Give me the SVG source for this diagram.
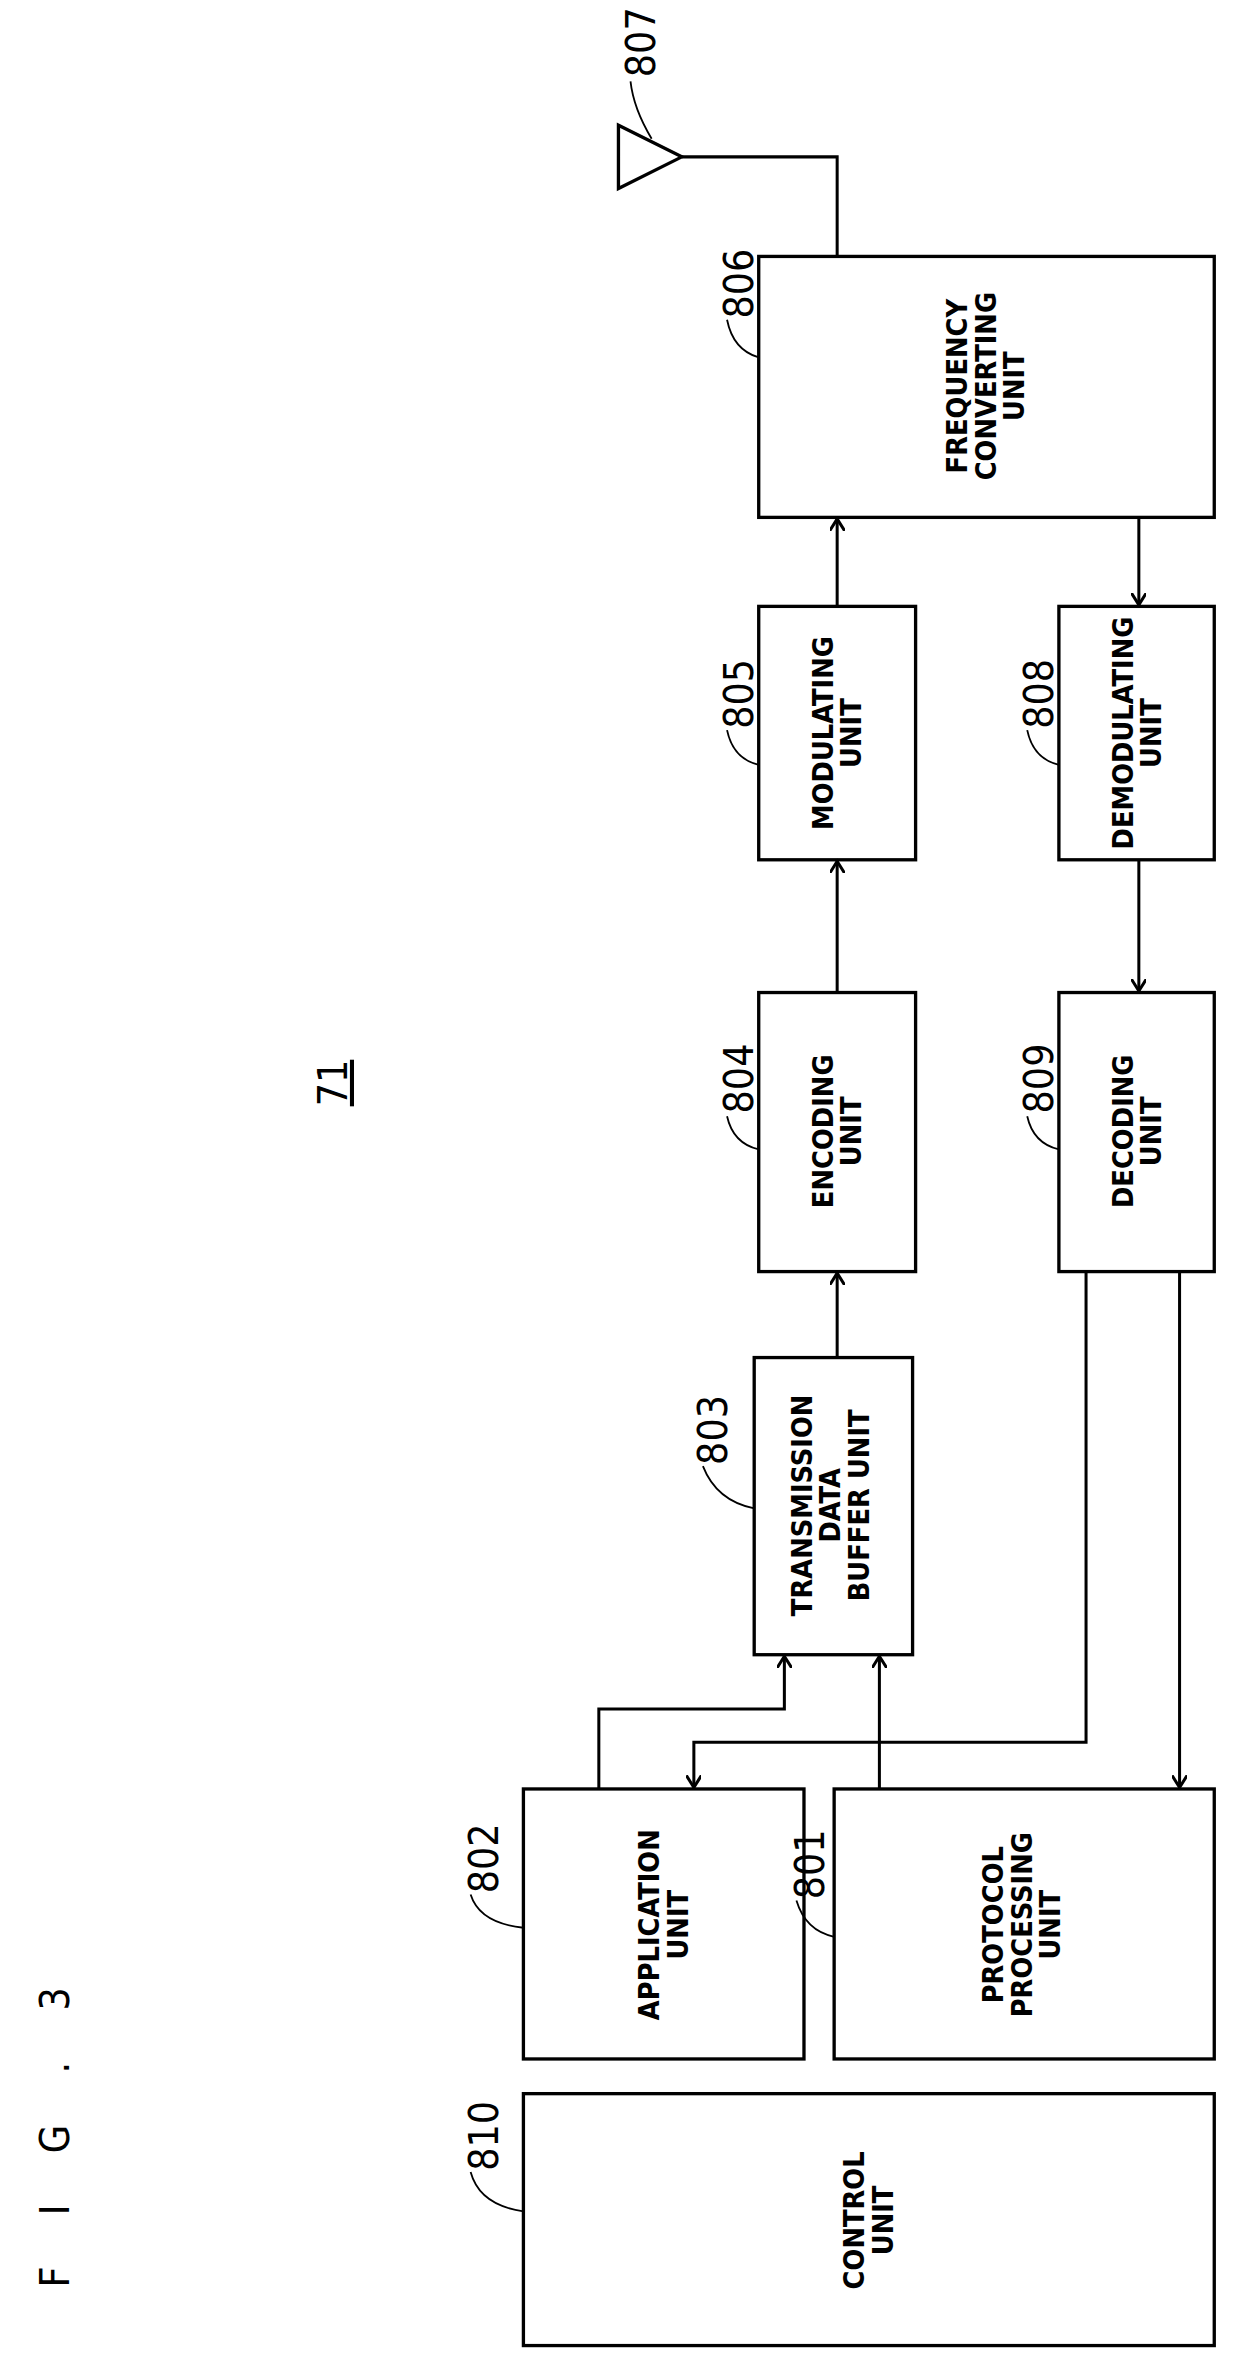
<svg xmlns="http://www.w3.org/2000/svg" width="1252" height="2353" viewBox="0 0 1252 2353">
<style>
.b{fill:#fff;stroke:#000;stroke-width:2.2}
.t{font-family:"DejaVu Sans Condensed","Liberation Sans",sans-serif;font-size:19px;font-weight:bold;text-anchor:middle}
.n{font-family:"DejaVu Sans Condensed","Liberation Sans",sans-serif;font-size:27px;text-anchor:middle}
.l{fill:none;stroke:#000;stroke-width:1.2}
.c{fill:none;stroke:#000;stroke-width:2;marker-end:url(#a)}
.w{fill:none;stroke:#000;stroke-width:2}
</style>
<defs><marker id="a" markerWidth="10" markerHeight="10" refX="8" refY="5" orient="auto" markerUnits="userSpaceOnUse"><path d="M0,0 L8,5 L0,10" fill="none" stroke="#000" stroke-width="2"/></marker></defs>
<rect width="1252" height="2353" fill="#fff"/>
<g transform="scale(1.5084)">
<text class="n" transform="translate(46,1400) rotate(-90)" font-size="32" letter-spacing="34">FIG.3</text>
<text class="n" transform="translate(230,718) rotate(-90)" text-decoration="underline">71</text>
<g id="n807"><polygon points="410,83 410,125 452,104" class="b"/><text class="n" transform="translate(434,28) rotate(-90)">807</text><path class="l" d="M418,54 Q420,72 432,92"/></g>
<g id="n806"><rect class="b" x="503" y="170" width="302" height="173"/><text class="t" transform="translate(655,256) rotate(-90)"><tspan x="0" y="-14">FREQUENCY</tspan><tspan x="0" y="5">CONVERTING</tspan><tspan x="0" y="24">UNIT</tspan></text><text class="n" transform="translate(499,188) rotate(-90)">806</text><path class="l" d="M482,212 Q486,232 503,237"/></g>
<g id="n805"><rect class="b" x="503" y="402" width="104" height="168"/><text class="t" transform="translate(555,486) rotate(-90)"><tspan x="0" y="-3">MODULATING</tspan><tspan x="0" y="16">UNIT</tspan></text><text class="n" transform="translate(499,460) rotate(-90)">805</text><path class="l" d="M482,484 Q486,503 503,507"/></g>
<g id="n808"><rect class="b" x="702" y="402" width="103" height="168"/><text class="t" transform="translate(754,486) rotate(-90)"><tspan x="0" y="-3">DEMODULATING</tspan><tspan x="0" y="16">UNIT</tspan></text><text class="n" transform="translate(698,460) rotate(-90)">808</text><path class="l" d="M681,484 Q685,503 702,507"/></g>
<g id="n804"><rect class="b" x="503" y="658" width="104" height="185"/><text class="t" transform="translate(555,750) rotate(-90)"><tspan x="0" y="-3">ENCODING</tspan><tspan x="0" y="16">UNIT</tspan></text><text class="n" transform="translate(499,715) rotate(-90)">804</text><path class="l" d="M482,740 Q486,758 503,762"/></g>
<g id="n809"><rect class="b" x="702" y="658" width="103" height="185"/><text class="t" transform="translate(754,750) rotate(-90)"><tspan x="0" y="-3">DECODING</tspan><tspan x="0" y="16">UNIT</tspan></text><text class="n" transform="translate(698,715) rotate(-90)">809</text><path class="l" d="M681,740 Q685,758 702,762"/></g>
<g id="n803"><rect class="b" x="500" y="900" width="105" height="197"/><text class="t" transform="translate(552,998) rotate(-90)"><tspan x="0" y="-14">TRANSMISSION</tspan><tspan x="0" y="5">DATA</tspan><tspan x="0" y="24">BUFFER UNIT</tspan></text><text class="n" transform="translate(482,948) rotate(-90)">803</text><path class="l" d="M466,972 Q475,995 500,1000"/></g>
<g id="n802"><rect class="b" x="347" y="1186" width="186" height="179"/><text class="t" transform="translate(440,1276) rotate(-90)"><tspan x="0" y="-3">APPLICATION</tspan><tspan x="0" y="16">UNIT</tspan></text><text class="n" transform="translate(330,1232) rotate(-90)">802</text><path class="l" d="M312,1256 Q318,1275 347,1278"/></g>
<g id="n801"><rect class="b" x="553" y="1186" width="252" height="179"/><text class="t" transform="translate(679,1276) rotate(-90)"><tspan x="0" y="-14">PROTOCOL</tspan><tspan x="0" y="5">PROCESSING</tspan><tspan x="0" y="24">UNIT</tspan></text><text class="n" transform="translate(546,1236) rotate(-90)">801</text><path class="l" d="M528,1260 Q534,1280 553,1284"/></g>
<g id="n810"><rect class="b" x="347" y="1388" width="458" height="167"/><text class="t" transform="translate(576,1472) rotate(-90)"><tspan x="0" y="-3">CONTROL</tspan><tspan x="0" y="16">UNIT</tspan></text><text class="n" transform="translate(330,1416) rotate(-90)">810</text><path class="l" d="M312,1440 Q318,1462 347,1466"/></g>
<g id="connectors">
<path class="w" d="M452,104 H555 V170"/>
<path class="c" d="M555,402 V344"/>
<path class="c" d="M755,343 V401"/>
<path class="c" d="M555,658 V571"/>
<path class="c" d="M755,570 V657"/>
<path class="c" d="M555,900 V844"/>
<path class="c" d="M397,1186 V1133 H520 V1098"/>
<path class="c" d="M583,1186 V1098"/>
<path class="c" d="M720,843 V1155 H460 V1185"/>
<path class="c" d="M782,843 V1185"/>
</g>
</g>
</svg>
